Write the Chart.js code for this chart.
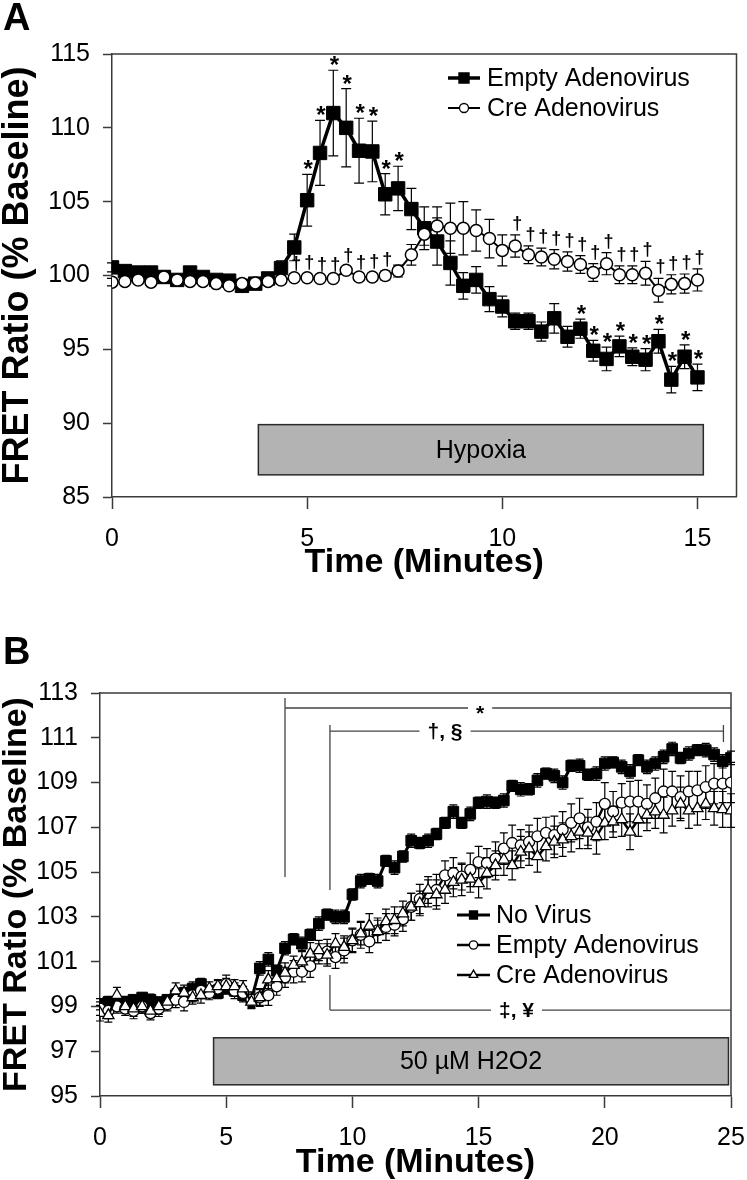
<!DOCTYPE html>
<html>
<head>
<meta charset="utf-8">
<script src="https://cdn.jsdelivr.net/npm/chart.js@4.4.0/dist/chart.umd.min.js"></script>
<style>
  html, body { margin: 0; padding: 0; background: #fff; }
  .panel { position: absolute; left: 0; }
  #panelA { top: 0; }
  #panelB { top: 580px; }
</style>
</head>
<body>
<div class="panel" id="panelA"><canvas id="chartA" width="747" height="580"></canvas></div>
<div class="panel" id="panelB"><canvas id="chartB" width="747" height="600"></canvas></div>
<script>
const FONT = '"Liberation Sans", Arial, Helvetica, sans-serif';
const INK = '#000';
const AXIS = '#3a3a3a';

// ---- Panel A: hypoxia, sampled every 20 s ----
const timeA = [0, 0.33, 0.67, 1, 1.33, 1.67, 2, 2.33, 2.67, 3, 3.33, 3.67, 4, 4.33, 4.67, 5,
  5.33, 5.67, 6, 6.33, 6.67, 7, 7.33, 7.67, 8, 8.33, 8.67, 9, 9.33, 9.67, 10,
  10.33, 10.67, 11, 11.33, 11.67, 12, 12.33, 12.67, 13, 13.33, 13.67, 14, 14.33, 14.67, 15];
const emptyA = [100.55, 100.3, 100.2, 100.2, 99.9, 99.7, 100.2, 99.9, 99.7, 99.65,
  99.3, 99.45, 99.8, 100.5, 101.9, 105.1, 108.3, 111.0, 110.0, 108.45,
  108.4, 105.5, 105.9, 104.5, 103.2, 102.3, 100.85, 99.3, 99.7, 98.4,
  97.9, 96.9, 96.9, 96.2, 97.1, 95.85, 96.4, 94.9, 94.35, 95.2,
  94.5, 94.3, 95.55, 92.95, 94.5, 93.1];
const emptyErrA = [0.3, 0.25, 0.25, 0.2, 0.25, 0.2, 0.25, 0.2, 0.25, 0.2, 0.25, 0.25, 0.3,
  0.5, 0.9, 1.75, 2.2, 2.9, 2.65, 2.2, 2.05, 1.4, 1.5,
  1.4, 1.45, 1.6, 1.5, 0.9, 0.9, 0.85, 0.7, 0.55, 0.55,
  0.65, 1.0, 0.7, 0.65, 0.7, 0.8, 0.7, 0.6, 0.75, 0.8,
  0.9, 0.8, 0.9];
const creA = [99.55, 99.6, 99.7, 99.55, 99.9, 99.7, 99.6, 99.6, 99.45, 99.3,
  99.45, 99.5, 99.6, 99.7, 99.85, 99.85, 99.8, 99.8, 100.35, 99.9,
  99.9, 100.0, 100.3, 101.4, 102.8, 103.35, 103.2, 103.2, 103.05, 102.5,
  101.7, 102.0, 101.4, 101.25, 101.1, 100.95, 100.75, 100.2, 100.8, 100.05,
  100.05, 100.15, 99.0, 99.4, 99.45, 99.7];
const creErrA = [0.25, 0.2, 0.25, 0.2, 0.2, 0.25, 0.2, 0.2, 0.25, 0.2, 0.2, 0.25, 0.2, 0.25,
  0.2, 0.25, 0.2, 0.2, 0.25, 0.2, 0.25,
  0.3, 0.4, 0.7, 0.75, 1.3, 1.7, 1.8, 1.4, 1.3, 1.05, 0.75, 0.6, 0.6, 0.65, 0.65,
  0.6, 0.6, 0.75, 0.6, 0.6, 0.8, 0.8, 0.65, 0.65, 0.75];
const xTicksA = [0, 5, 10, 15];
const yTicksA = [85, 90, 95, 100, 105, 110, 115];
const starsA = [15, 16, 17, 18, 19, 20, 21, 22, 36, 37, 38, 39, 40, 41, 42, 43, 44, 45];
const daggersA = [14, 15, 16, 17, 18, 19, 20, 21, 31, 32, 33, 34, 35, 36, 37, 38, 39, 40, 41, 42, 43, 44, 45];

// ---- Panel B: 50 uM H2O2, sampled every 20 s ----
const timeB = [0, 0.33, 0.67, 1, 1.33, 1.67, 2, 2.33, 2.67, 3, 3.33, 3.67, 4, 4.33, 4.67, 5,
  5.33, 5.67, 6, 6.33, 6.67, 7, 7.33, 7.67, 8, 8.33, 8.67, 9, 9.33, 9.67, 10,
  10.33, 10.67, 11, 11.33, 11.67, 12, 12.33, 12.67, 13, 13.33, 13.67, 14, 14.33, 14.67, 15,
  15.33, 15.67, 16, 16.33, 16.67, 17, 17.33, 17.67, 18, 18.33, 18.67, 19, 19.33, 19.67, 20,
  20.33, 20.67, 21, 21.33, 21.67, 22, 22.33, 22.67, 23, 23.33, 23.67, 24, 24.33, 24.67, 25];
const noVirusB = [99.1, 99.2, 99.1, 99.2, 99.3, 99.4, 99.3, 99.2, 99.3, 99.5,
  99.6, 99.8, 100.0, 99.7, 99.6, 99.8, 99.7, 99.5, 99.3, 100.7,
  101.1, 100.6, 101.6, 102.0, 101.8, 102.2, 102.7, 103.1, 103.0, 103.0,
  104.0, 104.6, 104.7, 104.6, 105.5, 105.2, 105.7, 106.4, 106.3, 106.4,
  106.7, 107.2, 107.7, 107.2, 107.6, 108.1, 108.15, 108.1, 108.2, 108.85,
  108.7, 108.7, 109.1, 109.4, 109.3, 109.0, 109.75, 109.75, 109.35, 109.4,
  109.85, 109.9, 109.7, 109.5, 110.0, 109.7, 109.85, 110.15, 110.5, 110.1,
  110.3, 110.45, 110.45, 110.25, 109.95, 110.1];
const noVirusErrB = [0.25, 0.25, 0.2, 0.25, 0.2, 0.2, 0.25, 0.2, 0.2, 0.3, 0.25, 0.3, 0.25, 0.2, 0.25, 0.2, 0.25, 0.3, 0.3,
  0.3, 0.3, 0.25, 0.3, 0.25, 0.3, 0.25, 0.3, 0.25, 0.3, 0.3,
  0.25, 0.3, 0.25, 0.3, 0.25, 0.3, 0.25, 0.3, 0.25, 0.3,
  0.25, 0.25, 0.3, 0.25, 0.3, 0.25, 0.3, 0.25, 0.3, 0.25,
  0.3, 0.25, 0.3, 0.25, 0.3, 0.3, 0.25, 0.3, 0.25, 0.3,
  0.3, 0.25, 0.3, 0.3, 0.25, 0.3, 0.3, 0.3, 0.3, 0.25,
  0.3, 0.25, 0.3, 0.3, 0.3, 0.3];
const emptyB = [98.9, 98.8, 99.0, 98.9, 98.8, 99.0, 98.7, 98.9, 99.1, 99.3,
  99.2, 99.5, 99.7, 99.6, 99.8, 100.0, 99.7, 99.6, 99.3, 99.4,
  99.5, 99.9, 100.3, 100.55, 100.55, 100.8, 101.35, 101.45, 101.2, 101.5,
  101.95, 102.2, 101.9, 102.4, 102.55, 102.65, 102.9, 103.45, 103.8, 104.05,
  104.2, 104.85, 104.95, 104.8, 105.1, 105.45, 105.4, 105.6, 106.05, 106.3,
  106.2, 106.35, 106.6, 106.75, 106.65, 106.9, 107.2, 107.4, 107.0, 107.25,
  108.05, 107.7, 108.1, 108.15, 108.15, 108.05, 108.3, 108.6, 108.6, 108.35,
  108.6, 108.65, 108.8, 108.95, 108.95, 109.0];
const emptyErrB = [0.3, 0.35, 0.3, 0.3, 0.35, 0.3, 0.3, 0.35, 0.3, 0.35, 0.4, 0.3, 0.35, 0.3, 0.35, 0.4, 0.35, 0.3, 0.35,
  0.4, 0.45, 0.4, 0.45, 0.5, 0.45, 0.5, 0.45, 0.55, 0.5, 0.55, 0.5, 0.6, 0.5, 0.55, 0.6, 0.5,
  0.55, 0.6, 0.65, 0.6, 0.7, 0.65, 0.7, 0.6, 0.75, 0.7, 0.65, 0.75, 0.7, 0.8, 0.7, 0.75, 0.8, 0.7, 0.85, 0.8,
  0.85, 0.9, 0.8, 0.85, 0.95, 0.9, 0.85, 0.9, 0.95, 0.85, 0.9, 1.0, 0.9, 0.95, 0.9, 0.85, 0.95, 0.9, 0.85, 0.9];
const creB = [98.7, 98.6, 99.5, 99.0, 98.9, 99.0, 98.8, 99.0, 99.2, 99.7,
  99.6, 99.4, 99.5, 99.8, 99.9, 99.9, 99.9, 99.8, 99.2, 99.4,
  100.2, 100.25, 100.5, 100.85, 101.0, 101.35, 101.5, 101.3, 101.8, 101.65,
  101.95, 102.25, 102.6, 102.35, 102.8, 102.85, 103.15, 103.45, 103.6, 104.2,
  104.0, 104.2, 104.55, 104.65, 104.7, 104.5, 104.95, 105.3, 105.55, 105.3,
  105.9, 106.05, 105.7, 106.15, 106.35, 106.45, 106.6, 106.8, 106.75, 106.6,
  107.2, 107.25, 107.35, 106.8, 107.35, 107.55, 107.7, 107.55, 107.75, 108.05,
  107.75, 107.85, 108.05, 107.85, 107.8, 107.75];
const creErrB = [0.35, 0.3, 0.35, 0.3, 0.35, 0.3, 0.3, 0.35, 0.3, 0.35, 0.35, 0.3, 0.35, 0.3, 0.3, 0.35, 0.3, 0.35, 0.3,
  0.35, 0.4, 0.4, 0.45, 0.4, 0.45, 0.5, 0.45, 0.5, 0.45, 0.5, 0.55, 0.5, 0.55, 0.5, 0.55, 0.6,
  0.55, 0.6, 0.55, 0.6, 0.65, 0.6, 0.65, 0.7, 0.6, 0.65, 0.7, 0.65, 0.7, 0.65, 0.7, 0.75, 0.7, 0.65, 0.7, 0.75,
  0.7, 0.75, 0.7, 0.8, 0.75, 0.7, 0.75, 0.8, 0.75, 0.7, 0.75, 0.8, 0.7, 0.75, 0.8, 0.75, 0.7, 0.75, 0.8, 0.75];
const xTicksB = [0, 5, 10, 15, 20, 25];
const yTicksB = [95, 97, 99, 101, 103, 105, 107, 109, 111, 113];

// significance brackets in panel B (minutes / % baseline)
const bracketsB = [
  { x0: 7.33, x1: 25, top: 112.78, bottom: 104.78, line: 112.33, label: '*', at: 15.06, endTick: false },
  { x0: 9.11, x1: 24.7, top: 111.57, bottom: 104.2, line: 111.3, label: '†, §', at: 13.67, endTick: true },
  { x0: 9.11, x1: 25, top: 100.4, bottom: 98.84, line: 98.84, label: '‡, ¥', at: 16.5, endTick: false }
];

function points(times, values) {
  return times.map((t, i) => ({ x: t, y: values[i] }));
}

function drawMarker(ctx, style, x, y, r, fill) {
  ctx.beginPath();
  if (style === 'rect') {
    const s = r * Math.SQRT1_2;
    ctx.rect(x - s, y - s, 2 * s, 2 * s);
  } else if (style === 'triangle') {
    ctx.moveTo(x, y - r);
    ctx.lineTo(x + r * 0.866, y + r / 2);
    ctx.lineTo(x - r * 0.866, y + r / 2);
    ctx.closePath();
  } else {
    ctx.arc(x, y, r, 0, Math.PI * 2);
  }
  ctx.fillStyle = fill;
  ctx.fill();
  ctx.stroke();
}

function errorBars(cap) {
  return {
    id: 'errorBars',
    beforeDatasetsDraw(chart) {
      const { ctx, scales: { x, y } } = chart;
      ctx.save();
      ctx.strokeStyle = INK;
      ctx.lineWidth = 1.2;
      chart.data.datasets.forEach(ds => {
        ds.data.forEach((p, i) => {
          const px = x.getPixelForValue(p.x);
          const hi = y.getPixelForValue(p.y + ds.errors[i]);
          const lo = y.getPixelForValue(p.y - ds.errors[i]);
          ctx.beginPath();
          ctx.moveTo(px, hi); ctx.lineTo(px, lo);
          ctx.moveTo(px - cap, hi); ctx.lineTo(px + cap, hi);
          ctx.moveTo(px - cap, lo); ctx.lineTo(px + cap, lo);
          ctx.stroke();
        });
      });
      ctx.restore();
    }
  };
}

function frameAndBox(box) {
  return {
    id: 'frameAndBox',
    beforeDatasetsDraw(chart) {
      const { ctx, chartArea: a, scales: { x, y } } = chart;
      ctx.save();
      const l = x.getPixelForValue(box.x0), r = x.getPixelForValue(box.x1);
      const t = y.getPixelForValue(box.y1), b = y.getPixelForValue(box.y0);
      ctx.fillStyle = '#b3b3b3';
      ctx.fillRect(l, t, r - l, b - t);
      ctx.strokeStyle = '#2a2a2a';
      ctx.lineWidth = 1.5;
      ctx.strokeRect(l, t, r - l, b - t);
      ctx.fillStyle = INK;
      ctx.font = `25px ${FONT}`;
      ctx.textAlign = 'center';
      ctx.textBaseline = 'middle';
      ctx.fillText(box.text, (l + r) / 2, (t + b) / 2 + 1);
      ctx.strokeStyle = AXIS;
      ctx.beginPath();
      ctx.moveTo(a.left, a.top);
      ctx.lineTo(a.right, a.top);
      ctx.lineTo(a.right, a.bottom);
      ctx.stroke();
      ctx.restore();
    }
  };
}

function legendRows(rows, lineX0, lineX1, textX) {
  return {
    id: 'legendRows',
    afterDraw(chart) {
      const ctx = chart.ctx;
      ctx.save();
      rows.forEach(row => {
        const ds = chart.data.datasets[row.dataset];
        ctx.strokeStyle = INK;
        ctx.lineWidth = ds.borderWidth;
        ctx.beginPath();
        ctx.moveTo(lineX0, row.y);
        ctx.lineTo(lineX1, row.y);
        ctx.stroke();
        ctx.lineWidth = 1.3;
        drawMarker(ctx, ds.pointStyle, (lineX0 + lineX1) / 2, row.y, ds.pointRadius * 0.75, ds.pointBackgroundColor);
        ctx.fillStyle = INK;
        ctx.font = `25px ${FONT}`;
        ctx.textAlign = 'left';
        ctx.textBaseline = 'middle';
        ctx.fillText(ds.label, textX, row.y + 1);
      });
      ctx.restore();
    }
  };
}

function panelLetter(letter, y) {
  return {
    id: 'panelLetter',
    afterDraw(chart) {
      const ctx = chart.ctx;
      ctx.save();
      ctx.fillStyle = INK;
      ctx.font = `bold 38px ${FONT}`;
      ctx.textAlign = 'left';
      ctx.textBaseline = 'middle';
      ctx.fillText(letter, 3, y);
      ctx.restore();
    }
  };
}

// stars / daggers placed just above the upper error bar of a point
function sigMarks(sets) {
  return {
    id: 'sigMarks',
    afterDatasetsDraw(chart) {
      const { ctx, scales: { x, y } } = chart;
      ctx.save();
      ctx.fillStyle = INK;
      ctx.textAlign = 'center';
      ctx.textBaseline = 'alphabetic';
      sets.forEach(set => {
        const ds = chart.data.datasets[set.dataset];
        ctx.font = set.font;
        set.idx.forEach(i => {
          const p = ds.data[i];
          const px = x.getPixelForValue(p.x) + set.dx;
          const top = y.getPixelForValue(p.y + ds.errors[i]);
          ctx.fillText(set.glyph, px, top - set.gap + set.lift);
        });
      });
      ctx.restore();
    }
  };
}

function brackets(list) {
  return {
    id: 'brackets',
    afterDatasetsDraw(chart) {
      const { ctx, scales: { x, y } } = chart;
      ctx.save();
      ctx.strokeStyle = '#444';
      ctx.lineWidth = 1.3;
      ctx.fillStyle = INK;
      ctx.font = `bold 21px ${FONT}`;
      ctx.textAlign = 'center';
      ctx.textBaseline = 'middle';
      list.forEach(b => {
        const x0 = x.getPixelForValue(b.x0), x1 = x.getPixelForValue(b.x1);
        const ly = y.getPixelForValue(b.line);
        const lx = x.getPixelForValue(b.at);
        const half = ctx.measureText(b.label).width / 2 + 8;
        ctx.beginPath();
        ctx.moveTo(x0, y.getPixelForValue(b.top));
        ctx.lineTo(x0, y.getPixelForValue(b.bottom));
        ctx.moveTo(x0, ly); ctx.lineTo(lx - half, ly);
        ctx.moveTo(lx + half, ly); ctx.lineTo(x1, ly);
        if (b.endTick) {
          ctx.moveTo(x1, ly - 6); ctx.lineTo(x1, ly + 11);
        }
        ctx.stroke();
        ctx.fillText(b.label, lx, ly + (b.label === '*' ? 6 : 1));
      });
      ctx.restore();
    }
  };
}

function axes(o) {
  const tickFont = { family: FONT, size: 25 };
  return {
    x: {
      type: 'linear', min: o.xMin, max: o.xMax,
      afterFit: s => { s.height = o.xHeight; s.paddingLeft = 0; s.paddingRight = 0; },
      afterBuildTicks: s => { s.ticks = o.xTicks.map(v => ({ value: v })); },
      grid: { drawOnChartArea: false, tickLength: 12, tickColor: AXIS, tickWidth: 1.5 },
      border: { color: AXIS, width: 1.5 },
      ticks: { color: INK, font: tickFont, padding: 15, maxRotation: 0, autoSkip: false },
      title: { display: true, text: 'Time (Minutes)', color: INK, font: { family: FONT, size: 34, weight: 'bold', lineHeight: 1 }, padding: 0 }
    },
    y: {
      type: 'linear', min: o.yMin, max: o.yMax,
      afterFit: s => { s.width = o.yWidth; s.paddingTop = 0; s.paddingBottom = 0; },
      afterBuildTicks: s => { s.ticks = o.yTicks.map(v => ({ value: v })); },
      grid: { drawOnChartArea: false, tickLength: 9, tickColor: AXIS, tickWidth: 1.5 },
      border: { color: AXIS, width: 1.5 },
      ticks: { color: INK, font: tickFont, padding: 13, autoSkip: false },
      title: { display: true, text: 'FRET Ratio (% Baseline)', color: INK, font: { family: FONT, size: o.yTitleSize, weight: 'bold', lineHeight: 1 }, padding: 0 }
    }
  };
}

const common = {
  responsive: false,
  animation: false,
  devicePixelRatio: 1,
  plugins: { legend: { display: false }, tooltip: { enabled: false } }
};

const chartA = new Chart(document.getElementById('chartA'), {
  type: 'line',
  data: {
    datasets: [
      {
        label: 'Empty Adenovirus', data: points(timeA, emptyA), errors: emptyErrA, order: 1,
        borderColor: INK, borderWidth: 3.5, pointStyle: 'rect', pointRadius: 9.5,
        pointBackgroundColor: INK, pointBorderColor: INK, pointBorderWidth: 1, tension: 0
      },
      {
        label: 'Cre Adenovirus', data: points(timeA, creA), errors: creErrA, order: 0,
        borderColor: INK, borderWidth: 2, pointStyle: 'circle', pointRadius: 6,
        pointBackgroundColor: '#fff', pointBorderColor: INK, pointBorderWidth: 1.5, tension: 0
      }
    ]
  },
  options: {
    ...common,
    layout: { padding: { left: 0, right: 4, top: 54, bottom: 0 } },
    scales: axes({ xMin: 0, xMax: 16, xTicks: xTicksA, xHeight: 83, yMin: 85, yMax: 115, yTicks: yTicksA, yWidth: 112, yTitleSize: 36 })
  },
  plugins: [
    frameAndBox({ x0: 3.75, x1: 15.15, y0: 86.5, y1: 89.9, text: 'Hypoxia' }),
    errorBars(5),
    sigMarks([
      { dataset: 0, idx: starsA, glyph: '*', font: `bold 24px ${FONT}`, dx: 1, gap: 10, lift: 13 },
      { dataset: 1, idx: daggersA, glyph: '†', font: `bold 18px ${FONT}`, dx: 2, gap: 12, lift: 6 }
    ]),
    legendRows([{ dataset: 0, y: 78 }, { dataset: 1, y: 108 }], 448, 480, 487),
    panelLetter('A', 20)
  ]
});

const chartB = new Chart(document.getElementById('chartB'), {
  type: 'line',
  data: {
    datasets: [
      {
        label: 'No Virus', data: points(timeB, noVirusB), errors: noVirusErrB, order: 2,
        borderColor: INK, borderWidth: 3, pointStyle: 'rect', pointRadius: 7.5,
        pointBackgroundColor: INK, pointBorderColor: INK, pointBorderWidth: 1, tension: 0
      },
      {
        label: 'Empty Adenovirus', data: points(timeB, emptyB), errors: emptyErrB, order: 1,
        borderColor: INK, borderWidth: 2.5, pointStyle: 'circle', pointRadius: 5.5,
        pointBackgroundColor: '#fff', pointBorderColor: INK, pointBorderWidth: 1.3, tension: 0
      },
      {
        label: 'Cre Adenovirus', data: points(timeB, creB), errors: creErrB, order: 0,
        borderColor: INK, borderWidth: 2.5, pointStyle: 'triangle', pointRadius: 6.5,
        pointBackgroundColor: '#fff', pointBorderColor: INK, pointBorderWidth: 1.3, tension: 0
      }
    ]
  },
  options: {
    ...common,
    layout: { padding: { left: 0, right: 16, top: 113, bottom: 0 } },
    scales: axes({ xMin: 0, xMax: 25, xTicks: xTicksB, xHeight: 84, yMin: 95, yMax: 113, yTicks: yTicksB, yWidth: 100, yTitleSize: 34 })
  },
  plugins: [
    frameAndBox({ x0: 4.5, x1: 24.9, y0: 95.5, y1: 97.6, text: '50 µM H2O2' }),
    errorBars(4),
    brackets(bracketsB),
    legendRows([{ dataset: 0, y: 335 }, { dataset: 1, y: 365 }, { dataset: 2, y: 395 }], 457, 490, 496),
    panelLetter('B', 74)
  ]
});
</script>
</body>
</html>
